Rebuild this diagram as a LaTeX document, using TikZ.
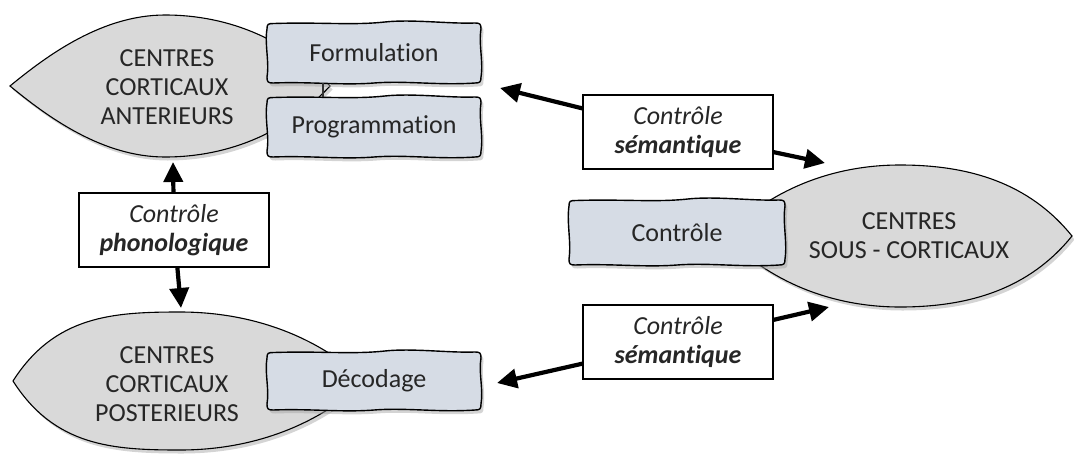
\documentclass[tikz,border=0pt]{standalone}
\usepackage{fontspec}
\setmainfont{Carlito}[Ligatures={NoCommon,NoContextual}]
\usetikzlibrary{arrows.meta,calc}
\definecolor{lensfill}{HTML}{D9D9D9}
\definecolor{boxfill}{HTML}{D6DCE5}
\definecolor{txtc}{HTML}{262626}
\definecolor{shad}{HTML}{A0A0A0}

% lens: #1 opts, #2 cx, #3 cy, #4 aL, #5 aR, #6 h, #7 left fullness, #8 right fullness
\newcommand\lensshape[8]{%
 \path[#1] ({#2-#4},#3) .. controls ({#2-0.75*#4},{#3-#7*#6}) and ({#2-0.4*#4},{#3-#6}) .. (#2,{#3-#6})
   .. controls ({#2+0.4*#5},{#3-#6}) and ({#2+0.75*#5},{#3-#8*#6}) .. ({#2+#5},#3)
   .. controls ({#2+0.75*#5},{#3+#8*#6}) and ({#2+0.4*#5},{#3+#6}) .. (#2,{#3+#6})
   .. controls ({#2-0.4*#4},{#3+#6}) and ({#2-0.75*#4},{#3+#7*#6}) .. ({#2-#4},#3) -- cycle;}

\newcommand\lens[8]{%
 \lensshape{fill=shad,opacity=.45,xshift=2.5pt,yshift=-3.5pt}{#2}{#3}{#4}{#5}{#6}{#7}{#8}%
 \lensshape{draw=black,line width=1.1pt,fill=lensfill}{#2}{#3}{#4}{#5}{#6}{#7}{#8}}

% wavy box outline: #1 opts, #2 x1, #3 y1, #4 x2, #5 y2
\newcommand\wavyshape[5]{%
 \path[shift={(#2,#3)},#1]
 (7,0.5) .. controls ({0.25*\wW},-1) and ({0.4*\wW},2.5) .. ({0.55*\wW},-1)
 .. controls ({0.68*\wW},-4) and ({0.85*\wW},1) .. ({\wW-6},0)
 .. controls ({\wW-1},0) and ({\wW},1) .. ({\wW},6)
 .. controls ({\wW-2.5},{0.35*\wH}) and ({\wW+2.5},{0.65*\wH}) .. ({\wW},{\wH-6})
 .. controls ({\wW},{\wH-1}) and ({\wW-1},{\wH}) .. ({\wW-6},{\wH})
 .. controls ({0.8*\wW},{\wH+2.5}) and ({0.65*\wW},{\wH-2.5}) .. ({0.5*\wW},{\wH})
 .. controls ({0.35*\wW},{\wH+2.5}) and ({0.2*\wW},{\wH-1.5}) .. (6,{\wH})
 .. controls (1,{\wH}) and (0,{\wH-1}) .. (0,{\wH-6})
 .. controls (2.5,{0.65*\wH}) and (-2.5,{0.35*\wH}) .. (0,6)
 .. controls (0,1) and (1,0.5) .. (7,0.5) -- cycle;}

% wavy box: #1 name, #2 x1, #3 y1, #4 x2, #5 y2, #6 text
\newcommand\wavybox[6]{%
 \pgfmathsetmacro\wW{#4-#2}\pgfmathsetmacro\wH{#5-#3}%
 \wavyshape{fill=shad,opacity=.45,xshift=2.5pt,yshift=-3.5pt}{#2}{#3}{#4}{#5}%
 \wavyshape{draw=black,line width=1.4pt,fill=boxfill}{#2}{#3}{#4}{#5}%
 \node[wtext,minimum width=\wW pt,minimum height=\wH pt] (#1) at ({(#2+#4)/2},{(#3+#5)/2}) {#6};}

\begin{document}
\begin{tikzpicture}[x=1pt,y=-1pt,
  every node/.style={text=txtc,font=\fontsize{26}{29}\selectfont},
  wtext/.style={inner sep=0pt},
  ltext/.style={align=center,inner sep=0pt},
  ctrlbox/.style={draw=black,line width=1.2pt,fill=white,minimum width=190pt,minimum height=74pt,align=center,inner sep=0pt},
  arrone/.style={line width=4.2pt,black,-{Triangle[length=20pt,width=19pt]}}]
\useasboundingbox (0,0) rectangle (1074,453);

% lenses
\lens{}{165}{86}{155}{165}{71}{0.45}{0.63}
\lens{}{180}{381}{167}{185}{69}{0.95}{0.63}
\lens{}{900}{236}{175}{172}{71}{0.63}{0.75}

\node[ltext] (ant) at (167,87) {CENTRES\\CORTICAUX\\ANTERIEURS};
\node[ltext] (post) at (167,384) {CENTRES\\CORTICAUX\\POSTERIEURS};
\node[ltext] (sous) at (909,236) {CENTRES\\SOUS - CORTICAUX};

% wavy boxes
\wavybox{form}{267}{23}{481}{83}{Formulation}
\wavybox{prog}{267}{97}{481}{157}{Programmation}
\wavybox{deco}{267}{352}{481}{410}{Décodage}
\wavybox{ctrl}{569}{200}{785}{265}{Contrôle}

\draw[line width=1.3pt,black!80] ($(form.south west)!0.262!(form.south east)$) -- ($(prog.north west)!0.262!(prog.north east)$);

% control boxes
\node[ctrlbox] (phono) at (174,230) {\textit{Contrôle}\\\textbf{\textit{phonologique}}};
\node[ctrlbox] (sem1) at (678,132) {\textit{Contrôle}\\\textbf{\textit{sémantique}}};
\node[ctrlbox] (sem2) at (678,342) {\textit{Contrôle}\\\textbf{\textit{sémantique}}};

% arrow ends
\coordinate (pA) at (173,162);
\coordinate (pB) at (181,308);
\coordinate (s1a) at (500,88);
\coordinate (s1b) at (825,163);
\coordinate (s2a) at (497,383);
\coordinate (s2b) at (829,307);

\draw[arrone] (phono) -- (pA);
\draw[arrone] (phono) -- (pB);
\draw[arrone] (sem1) -- (s1a);
\draw[arrone] (sem1) -- (s1b);
\draw[arrone] (sem2) -- (s2a);
\draw[arrone] (sem2) -- (s2b);
\end{tikzpicture}
\end{document}
